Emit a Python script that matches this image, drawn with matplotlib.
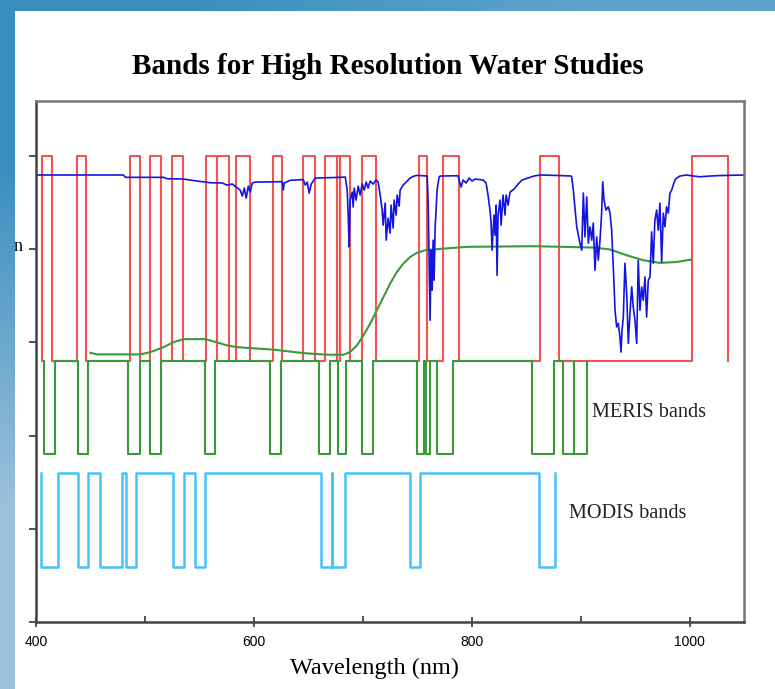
import numpy as np
import matplotlib.pyplot as plt
from matplotlib.patches import Rectangle

# band limits in nm
red_bands = [(405.2, 415.0), (437.7, 446.2), (486.0, 495.1), (504.3, 514.4), (524.9, 535.0),
             (556.1, 566.1), (566.1, 577.2), (583.9, 596.1), (617.2, 626.3), (645.0, 655.7),
             (665.5, 676.2), (676.2, 679.3), (679.3, 688.7), (699.2, 712.3), (752.0, 758.8),
             (773.5, 788.7), (862.8, 880.2), (1002.2, 1035.2)]
meris_bands = [(407.7, 417.8), (438.3, 447.4), (484.5, 495.1), (504.3, 514.4), (555.1, 564.6),
               (615.0, 624.9), (660.0, 670.1), (677.2, 684.8), (699.7, 709.8), (749.6, 756.6),
               (758.2, 761.8), (768.0, 783.2), (855.1, 875.6), (884.1, 894.2), (894.2, 905.6)]
modis_bands = [(404.7, 420.3), (438.3, 447.4), (458.4, 479.0), (482.9, 492.1), (525.4, 536.1),
               (545.6, 555.4), (661.6, 672.2), (672.2, 683.9), (743.5, 752.7), (862.1, 876.8)]

# vegetation-like reflectance curve (green)
veg_wl = [449.9, 456.1, 495.8, 505.0, 517.2, 526.3, 535.5, 555.4, 566.1, 575.3, 584.5, 596.7,
          618.1, 645.6, 667.1, 682.3, 688.4, 694.6, 700.6, 706.8, 712.9, 719.0, 725.1, 731.3,
          737.3, 743.5, 749.6, 757.2, 771.0, 795.5, 856.6, 911.7, 927.0, 942.3, 957.5, 972.8,
          988.2, 1001.9]
veg_val = [2.889, 2.871, 2.871, 2.896, 2.949, 3.003, 3.035, 3.035, 3.0, 2.968, 2.949, 2.939,
           2.922, 2.885, 2.868, 2.868, 2.896, 2.968, 3.075, 3.201, 3.344, 3.487, 3.631, 3.756,
           3.846, 3.917, 3.960, 3.989, 4.003, 4.025, 4.032, 4.018, 3.997, 3.935, 3.882, 3.853,
           3.863, 3.889]

# solar / atmospheric spectrum (blue)
spec_wl = [400.0, 480.2, 482.0, 516.9, 520.6, 535.2, 546.2, 560.0, 571.0, 575.3, 580.2,
           587.5, 589.4, 591.2, 593.0, 594.9, 596.7, 598.5, 601.3, 624.2, 626.1, 627.0, 627.9,
           633.4, 645.3, 647.2, 649.0, 650.8, 652.7, 656.3, 679.3, 683.9, 685.7, 686.6, 687.5,
           688.4, 690.3, 691.2, 692.1, 693.9, 695.8, 697.6, 699.5, 701.3, 703.1, 704.9, 706.8,
           709.5, 712.3, 714.1, 716.0, 717.8, 718.7, 720.6, 721.5, 723.3, 725.1, 726.0, 727.9,
           728.8, 730.6, 731.6, 733.4, 734.3, 737.1, 739.8, 743.5, 747.2, 749.9, 759.1, 760.0,
           760.9, 761.8, 762.7, 763.7, 764.6, 765.5, 766.4, 767.3, 768.2, 770.1, 771.0, 787.5,
           788.4, 790.3, 792.1, 794.9, 797.6, 800.4, 803.1, 806.8, 810.4, 813.2, 815.0, 816.8,
           817.8, 818.7, 820.5, 821.5, 822.4, 823.3, 824.2, 826.0, 827.0, 828.8, 830.6, 831.6,
           833.4, 835.2, 838.9, 842.6, 846.2, 851.7, 857.2, 862.8, 881.1, 891.2, 891.8, 893.3,
           896.4, 899.4, 901.0, 902.5, 904.0, 905.6, 907.1, 908.6, 910.2, 911.6, 913.2, 914.8,
           916.2, 917.8, 919.3, 920.3, 921.5, 923.3, 925.4, 927.0, 928.5, 930.0, 931.6, 933.1,
           934.6, 936.1, 937.1, 938.0, 939.2, 940.7, 942.3, 943.8, 945.3, 946.9, 948.3, 949.9,
           951.5, 952.9, 954.5, 956.0, 957.5, 959.1, 960.6, 962.1, 963.7, 965.2, 966.7, 968.2,
           969.8, 971.3, 972.8, 974.4, 975.9, 977.4, 978.9, 980.5, 982.0, 983.6, 985.0, 986.6,
           988.2, 991.2, 997.3, 1003.4, 1009.5, 1018.7, 1027.9, 1049.9]
spec_val = [4.796, 4.796, 4.771, 4.771, 4.756, 4.753, 4.734, 4.713, 4.710, 4.688, 4.699,
            4.634, 4.570, 4.656, 4.548, 4.677, 4.613, 4.710, 4.720, 4.724, 4.724, 4.634, 4.710,
            4.739, 4.747, 4.688, 4.720, 4.602, 4.699, 4.763, 4.771, 4.774, 4.634, 4.366, 4.025,
            4.527, 4.613, 4.452, 4.656, 4.527, 4.677, 4.581, 4.699, 4.634, 4.720, 4.656, 4.731,
            4.699, 4.742, 4.720, 4.581, 4.419, 4.258, 4.495, 4.097, 4.333, 4.172, 4.473, 4.226,
            4.527, 4.366, 4.581, 4.462, 4.634, 4.688, 4.720, 4.763, 4.785, 4.792, 4.785, 4.527,
            3.882, 3.237, 3.989, 3.559, 4.097, 3.667, 4.226, 4.419, 4.634, 4.774, 4.785, 4.788,
            4.742, 4.667, 4.742, 4.710, 4.763, 4.731, 4.753, 4.747, 4.742, 4.710, 4.581, 4.419,
            4.290, 3.989, 4.366, 4.151, 4.473, 3.720, 4.366, 4.527, 4.258, 4.581, 4.366, 4.581,
            4.473, 4.613, 4.645, 4.699, 4.742, 4.763, 4.785, 4.796, 4.790, 4.785, 4.777, 4.634,
            4.240, 4.065, 3.989, 4.602, 4.132, 4.562, 4.065, 4.240, 4.097, 4.280, 3.774, 4.132,
            3.882, 4.097, 4.387, 4.724, 4.527, 4.419, 4.455, 4.387, 4.204, 3.810, 3.344, 3.165,
            3.204, 3.057, 2.896, 3.129, 3.272, 3.849, 3.527, 2.989, 3.312, 3.595, 3.380, 3.237,
            2.989, 3.882, 3.344, 3.595, 3.452, 3.702, 3.272, 3.667, 3.702, 4.186, 3.849, 4.312,
            4.419, 4.204, 4.495, 3.863, 4.387, 4.240, 4.455, 4.387, 4.602, 4.634, 4.688, 4.742,
            4.763, 4.785, 4.796, 4.785, 4.777, 4.785, 4.790, 4.796]

xticks_major = [400, 600, 800, 1000]
xticks_minor = [500, 700, 900]


def square_wave(bands, base, level):
    xs, ys = [], []
    for a, b in bands:
        xs += [a, a, b, b]
        ys += [base, level, level, base]
    return xs, ys


fig = plt.figure(figsize=(7.75, 6.89), dpi=100)

# slide background: blue gradient with a white panel on it
bg = fig.add_axes([0, 0, 1, 1])
grad = np.array([[[0.23, 0.56, 0.75], [0.36, 0.64, 0.80]],
                 [[0.62, 0.76, 0.86], [0.70, 0.80, 0.88]]])
bg.imshow(grad, extent=[0, 1, 0, 1], aspect='auto', interpolation='bilinear')
bg.set_xlim(0, 1)
bg.set_ylim(0, 1)
bg.axis('off')
fig.patches.append(Rectangle((15 / 775, 0), 1, 1 - 11 / 689, transform=fig.transFigure,
                             facecolor='white', edgecolor='none', zorder=1))

ax = fig.add_axes([36 / 775, 1 - 622 / 689, (744 - 36) / 775, (622 - 101) / 689])
ax.set_zorder(2)

x, y = square_wave(red_bands, 2.8, 5.0)
ax.plot(x, y, color='#f25454', lw=1.5)
x, y = square_wave(meris_bands, 2.8, 1.806)
ax.plot(x, y, color='#3a9a3a', lw=1.5)
x, y = square_wave(modis_bands, 1.602, 0.591)
ax.plot(x, y, color='#45c3fa', lw=1.8)
ax.plot(veg_wl, veg_val, color='#3a9a3a', lw=1.5)
ax.plot(spec_wl, spec_val, color='#1414e0', lw=1.2)

ax.text(910, 2.253, 'MERIS bands', family='Liberation Serif', fontsize=14.6, va='center', color='#222222')
ax.text(889.4, 1.161, 'MODIS bands', family='Liberation Serif', fontsize=14.6, va='center', color='#222222')

ax.set_xlim(400, 1050)
ax.set_ylim(0, 5.59)
ax.set_xticks(xticks_major)
ax.set_xticks(xticks_minor, minor=True)
ax.set_yticks([0, 1, 2, 3, 4, 5])
ax.set_yticklabels([])
ax.tick_params(axis='x', which='major', direction='inout', length=7, width=1.2,
               labelsize=10, pad=6, color='#333333')
ax.tick_params(axis='x', which='minor', direction='in', length=4, width=1.2, color='#333333')
ax.tick_params(axis='y', direction='out', length=5, width=1.2, color='#333333')
for lab in ax.get_xticklabels():
    lab.set_family('Liberation Sans')
for side in ['left', 'bottom']:
    ax.spines[side].set_color('#444444')
    ax.spines[side].set_linewidth(1.8)
for side in ['top', 'right']:
    ax.spines[side].set_color('#777777')
    ax.spines[side].set_linewidth(1.8)

fig.text(388 / 775, 1 - 66 / 689, 'Bands for High Resolution Water Studies',
         family='Liberation Serif', weight='bold', fontsize=21, ha='center', va='center')
fig.text(375 / 775, 1 - 668 / 689, 'Wavelength (nm)', family='Liberation Serif',
         fontsize=17.5, ha='center', va='center')
fig.text(23 / 775, 1 - 247 / 689, 'n', family='Liberation Serif', fontsize=13,
         ha='right', va='center')

fig.savefig('out.png', dpi=100)
